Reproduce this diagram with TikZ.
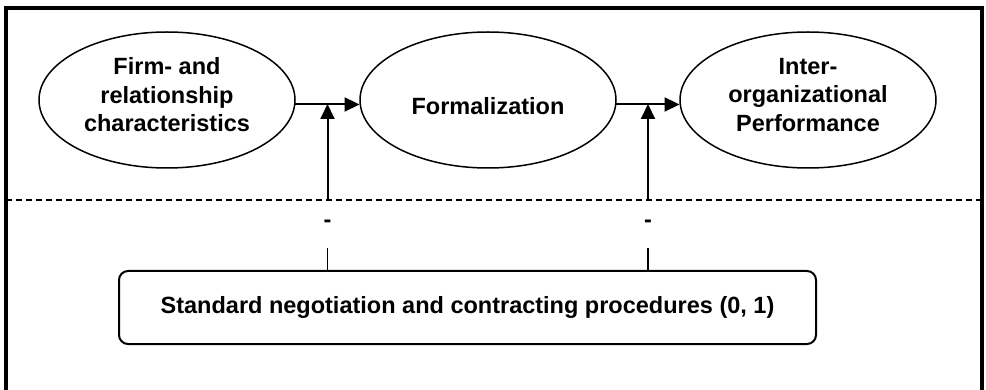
\documentclass[tikz,border=0pt]{standalone}
\usepackage{fontspec}
\setmainfont{Liberation Sans}
\usetikzlibrary{shapes.geometric,arrows.meta}
\begin{document}
\begin{tikzpicture}[x=1pt,y=-1pt,
  construct/.style={draw,line width=1.5pt,ellipse,minimum width=256pt,minimum height=136pt,inner sep=0pt},
  ctext/.style={inner sep=0pt,align=center,font=\fontsize{23.5}{28.5}\selectfont\bfseries},
  procbox/.style={draw,line width=2pt,rounded corners=9pt,minimum width=697pt,minimum height=73pt,inner sep=0pt,font=\fontsize{23.5}{27.5}\selectfont\bfseries},
  signlabel/.style={inner sep=0pt,minimum height=48pt,font=\fontsize{23.5}{27.5}\selectfont\bfseries},
  arr/.style={line width=2pt,-{Triangle[length=15pt,width=14pt]}},
  conn/.style={line width=1.5pt}]
\useasboundingbox (0,0) rectangle (986,390);
\fill[white] (0,0) rectangle (986,390);
% frame
\draw[line width=3.5pt] (6,390) -- (6,8) -- (982,8) -- (982,390);
\draw[line width=1.5pt,dash pattern=on 6pt off 4pt] (6,200) -- (982,200);
% constructs
\node[construct] (e1) at (167,100) {};
\node[construct] (e2) at (488,100) {};
\node[construct] (e3) at (808,100) {};
\node[ctext] (t1) at ([yshift=5pt]e1.center) {Firm- and\\relationship\\characteristics};
\node[ctext] (t2) at ([yshift=-6pt]e2.center) {Formalization};
\node[ctext] (t3) at ([yshift=5pt]e3.center) {Inter-\\organizational\\Performance};
% main arrows
\draw[arr] (e1.-2) -- (e2.182);
\draw[arr] (e2.-2) -- (e3.182);
\coordinate (m1) at (327.5,104);
\coordinate (m2) at (648,104);
% moderator
\node[procbox] (box) at (467.5,307.5) {Standard negotiation and contracting procedures (0, 1)};
\node[signlabel] (s1) at (327.5,224) {-};
\node[signlabel] (s2) at (648,224) {-};
\draw[conn] (box.north -| s1) -- (s1.south);
\draw[conn] (box.north -| s2) -- (s2.south);
\draw[arr] (s1.north) -- (m1);
\draw[arr] (s2.north) -- (m2);
\end{tikzpicture}
\end{document}
